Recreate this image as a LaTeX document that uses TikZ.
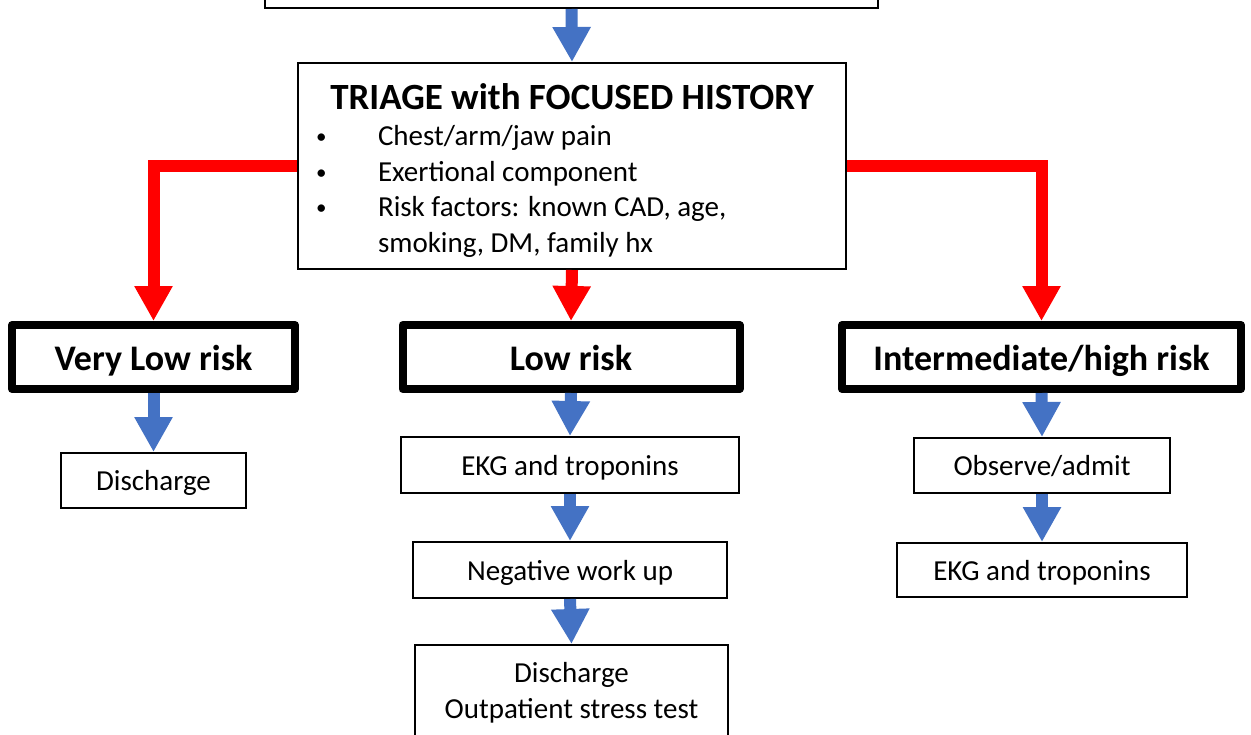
\documentclass[tikz,border=0pt]{standalone}
\usepackage{fontspec}
\setmainfont{Carlito}
\usepackage{xcolor}
\usetikzlibrary{positioning, arrows.meta}
\definecolor{flowblue}{HTML}{4472C4}
\newcommand{\bodysize}{\fontsize{14.5}{17.75}\selectfont}
\newcommand{\headsize}{\fontsize{18}{22}\selectfont\bfseries}
\newcommand{\flowitem}{\hspace*{9pt}\makebox[31pt][l]{\raisebox{1pt}{\fontsize{10.5}{10.5}\selectfont\textbullet}}}

\begin{document}
\begin{tikzpicture}
      [x=0.5pt, y=-0.5pt, font=\bodysize,
       plainbox/.style={rectangle,draw=black,line width=1pt,inner sep=0pt,align=center},
       stepbox/.style={plainbox,text height=13pt,text depth=3pt},
       riskbox/.style={rectangle,draw=black,line width=4pt,line join=round,inner sep=0pt,
         text height=16pt,text depth=3pt,font=\headsize},
       bluearrow/.style={draw=flowblue,line width=6pt,-{Triangle[length=17.5pt,width=18pt]}},
       redarrow/.style={draw=red,line width=6pt,-{Triangle[length=17.5pt,width=18pt]}}]
        \fill[white] (0,0) rectangle (1251,734);
        \useasboundingbox (0,0) rectangle (1251,734);
        \clip (0,0) rectangle (1251,734);

        % top step, cut off by the page
        \node (intake) at (571.5,-32) [plainbox, minimum width=306.5pt, minimum height=40pt] {};
        \node (triage) at (572,166) [plainbox, minimum width=274pt, minimum height=103pt, text width=274pt, align=flush left]
          {\makebox[\linewidth]{\rule{0pt}{17pt}\fontsize{18.5}{22}\selectfont\bfseries TRIAGE with FOCUSED HISTORY}\\[0.5pt]
           \flowitem Chest/arm/jaw pain\\
           \flowitem Exertional component\\
           \flowitem Risk factors: known CAD, age,\\
           \hspace*{40pt}smoking, DM, family hx};

        % risk groups
        \node (vlow) at (153.5,357) [riskbox, minimum width=141.5pt, minimum height=32pt] {Very Low risk};
        \node (low) at (571,357) [riskbox, minimum width=168.5pt, minimum height=32pt] {Low risk};
        \node (high) at (1041.5,357) [riskbox, minimum width=199.5pt, minimum height=32pt] {Intermediate/high risk};

        % next steps
        \node (dis1) at (153.5,480.5) [stepbox, minimum width=92.5pt, minimum height=27.5pt] {Discharge};
        \node (ekg1) at (570,465) [stepbox, minimum width=169pt, minimum height=28pt] {EKG and troponins};
        \node (neg) at (570,570) [stepbox, minimum width=157pt, minimum height=28pt] {Negative work up};
        \node (dis2) at (571.5,693) [plainbox, minimum width=156.5pt, minimum height=48pt] {Discharge\\Outpatient stress test};
        \node (obs) at (1042,465.5) [stepbox, minimum width=128pt, minimum height=27.5pt] {Observe/admit};
        \node (ekg2) at (1042,570) [stepbox, minimum width=145pt, minimum height=27pt] {EKG and troponins};

        \draw[bluearrow] (intake.south) -- (triage.north);
        \draw[redarrow] (triage.west) -| (vlow.north);
        \draw[redarrow] (triage.south) -- (low.north);
        \draw[redarrow] (triage.east) -| (high.north);
        \draw[bluearrow] (vlow.south) -- (dis1.north);
        \draw[bluearrow] (low.south) -- (ekg1.north);
        \draw[bluearrow] (ekg1.south) -- (neg.north);
        \draw[bluearrow] (neg.south) -- (dis2.north);
        \draw[bluearrow] (high.south) -- (obs.north);
        \draw[bluearrow] (obs.south) -- (ekg2.north);
      \end{tikzpicture}
\end{document}
